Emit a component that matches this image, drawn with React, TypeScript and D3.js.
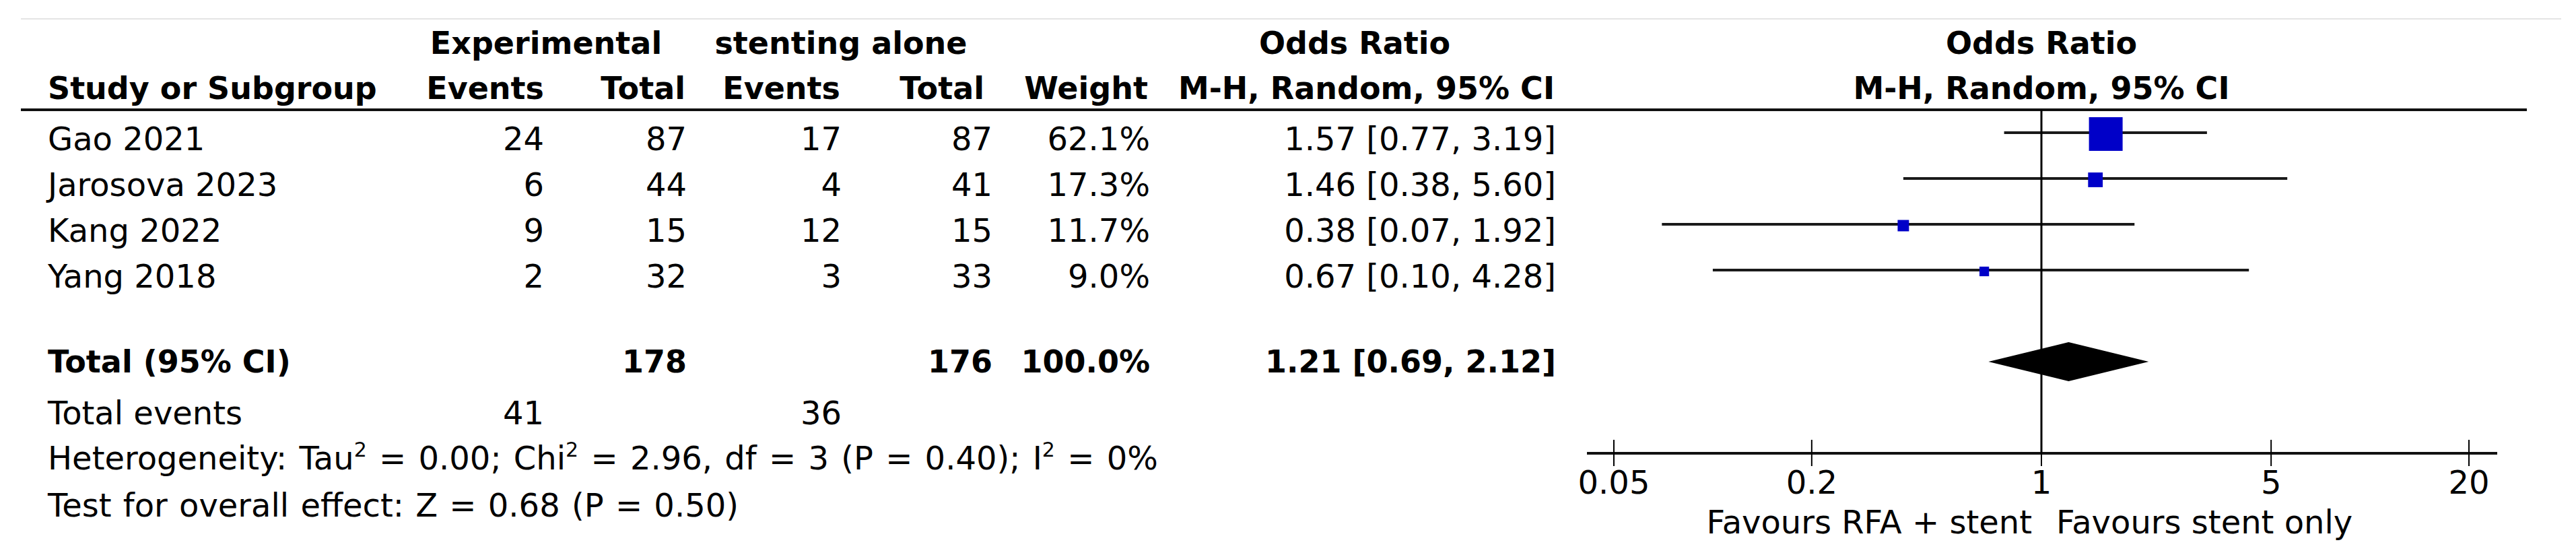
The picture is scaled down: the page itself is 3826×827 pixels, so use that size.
import React from 'react';
import * as d3 from 'd3';

// study level data
const studies = ['Gao 2021', 'Jarosova 2023', 'Kang 2022', 'Yang 2018'];
const expEvents = [24, 6, 9, 2];
const expTotal = [87, 44, 15, 32];
const ctrlEvents = [17, 4, 12, 3];
const ctrlTotal = [87, 41, 15, 33];
const weights = [62.1, 17.3, 11.7, 9.0];
const oddsRatio = [1.57, 1.46, 0.38, 0.67];
const ciLow = [0.77, 0.38, 0.07, 0.1];
const ciHigh = [3.19, 5.6, 1.92, 4.28];

// pooled result
const pooled = { or: 1.21, lo: 0.69, hi: 2.12, weight: 100.0, expTotal: 178, ctrlTotal: 176, expEvents: 41, ctrlEvents: 36 };

const tickValues = [0.05, 0.2, 1, 5, 20];
const tickLabels = ['0.05', '0.2', '1', '5', '20'];

const FONT = '"DejaVu Sans", Verdana, sans-serif';
const FS = 48;
const FSB = 46;

export default function App() {
  const width = 3826;
  const height = 827;

  const x = d3.scaleLog().domain([0.05, 20]).range([2397, 3667]);
  const rowY = d3.scalePoint().domain(studies).range([223, 427]);
  const box = d3.scalePow().exponent(0.65).domain([0, d3.max(weights)]).range([0, 50]);

  // column right edges
  const col = { expEv: 808, expTot: 1020, ctrlEv: 1250, ctrlTot: 1474, weight: 1708, ci: 2311 };
  const leftX = 71;
  const headRuleY = 163;
  const axisY = 673;
  const totalY = 553;
  const diamondY = 537;
  const plotMid = x(1);
  const [r0, r1] = x.range();

  const fmt = (v) => v.toFixed(2);
  const diamond = d3.line()([
    [x(pooled.lo), diamondY],
    [x(pooled.or), diamondY - 29],
    [x(pooled.hi), diamondY],
    [x(pooled.or), diamondY + 29],
  ]) + 'Z';

  return (
    <svg width={width} height={height} style={{ position: 'absolute', left: 0, top: 0, background: '#fff' }}
      fontFamily={FONT} fontSize={FS} fill="#000">
      <rect width={width} height={height} fill="#fff" />
      <line x1={31} x2={3804} y1={28} y2={28} stroke="#e4e4e4" strokeWidth={2} />

      {/* header */}
      <g fontWeight="bold" fontSize={FSB}>
        <text x={811} y={80} textAnchor="middle">Experimental</text>
        <text x={1249} y={80} textAnchor="middle">stenting alone</text>
        <text x={2012} y={80} textAnchor="middle">Odds Ratio</text>
        <text x={plotMid} y={80} textAnchor="middle">Odds Ratio</text>
        <text x={leftX} y={147}>Study or Subgroup</text>
        <g textAnchor="end">
          <text x={col.expEv} y={147}>Events</text>
          <text x={col.expTot - 2} y={147}>Total</text>
          <text x={col.ctrlEv - 2} y={147}>Events</text>
          <text x={col.ctrlTot - 12} y={147}>Total</text>
          <text x={col.weight - 3} y={147}>Weight</text>
          <text x={col.ci - 2} y={147}>M-H, Random, 95% CI</text>
        </g>
        <text x={plotMid} y={147} textAnchor="middle">M-H, Random, 95% CI</text>
      </g>
      <line x1={31} x2={3753} y1={headRuleY} y2={headRuleY} stroke="#111" strokeWidth={4} />

      {/* study rows */}
      {studies.map((s, i) => {
        const y = rowY(s);
        const ly = y - 26;
        const b = box(weights[i]);
        return (
          <g key={s}>
            <text x={leftX} y={y}>{s}</text>
            <g textAnchor="end">
              <text x={col.expEv} y={y}>{expEvents[i]}</text>
              <text x={col.expTot} y={y}>{expTotal[i]}</text>
              <text x={col.ctrlEv} y={y}>{ctrlEvents[i]}</text>
              <text x={col.ctrlTot} y={y}>{ctrlTotal[i]}</text>
              <text x={col.weight} y={y}>{weights[i].toFixed(1)}%</text>
              <text x={col.ci} y={y}>{`${fmt(oddsRatio[i])} [${fmt(ciLow[i])}, ${fmt(ciHigh[i])}]`}</text>
            </g>
            <line x1={x(ciLow[i])} x2={x(ciHigh[i])} y1={ly} y2={ly} stroke="#1a1a1a" strokeWidth={4} />
            <rect x={x(oddsRatio[i]) - b / 2} y={ly - b / 2 + 2} width={b} height={b} fill="#0000c8" />
          </g>
        );
      })}

      {/* totals */}
      <g fontWeight="bold" fontSize={FSB}>
        <text x={leftX} y={totalY}>Total (95% CI)</text>
        <g textAnchor="end">
          <text x={col.expTot} y={totalY}>{pooled.expTotal}</text>
          <text x={col.ctrlTot} y={totalY}>{pooled.ctrlTotal}</text>
          <text x={col.weight} y={totalY}>{pooled.weight.toFixed(1)}%</text>
          <text x={col.ci} y={totalY}>{`${fmt(pooled.or)} [${fmt(pooled.lo)}, ${fmt(pooled.hi)}]`}</text>
        </g>
      </g>
      <text x={leftX} y={630}>Total events</text>
      <text x={col.expEv} y={630} textAnchor="end">{pooled.expEvents}</text>
      <text x={col.ctrlEv} y={630} textAnchor="end">{pooled.ctrlEvents}</text>
      <text x={leftX} y={697} wordSpacing={3}>
        Heterogeneity: Tau<tspan dy={-19} fontSize={30}>2</tspan>
        <tspan dy={19}> = 0.00; Chi</tspan><tspan dy={-19} fontSize={30}>2</tspan>
        <tspan dy={19}> = 2.96, df = 3 (P = 0.40); I</tspan><tspan dy={-19} fontSize={30}>2</tspan>
        <tspan dy={19}> = 0%</tspan>
      </text>
      <text x={leftX} y={767} wordSpacing={2}>Test for overall effect: Z = 0.68 (P = 0.50)</text>

      {/* plot */}
      <path d={diamond} fill="#000" />
      <line x1={plotMid} x2={plotMid} y1={headRuleY} y2={axisY} stroke="#000" strokeWidth={3} />
      <line x1={r0 - 40} x2={r1 + 42} y1={axisY} y2={axisY} stroke="#111" strokeWidth={4} />
      {tickValues.map((t, i) => (
        <g key={t}>
          <line x1={x(t)} x2={x(t)} y1={axisY - 20} y2={axisY + 19} stroke="#000" strokeWidth={2} />
          <text x={x(t)} y={733} textAnchor="middle">{tickLabels[i]}</text>
        </g>
      ))}
      <text x={plotMid - 14} y={792} textAnchor="end">Favours RFA + stent</text>
      <text x={plotMid + 22} y={792}>Favours stent only</text>
    </svg>
  );
}
